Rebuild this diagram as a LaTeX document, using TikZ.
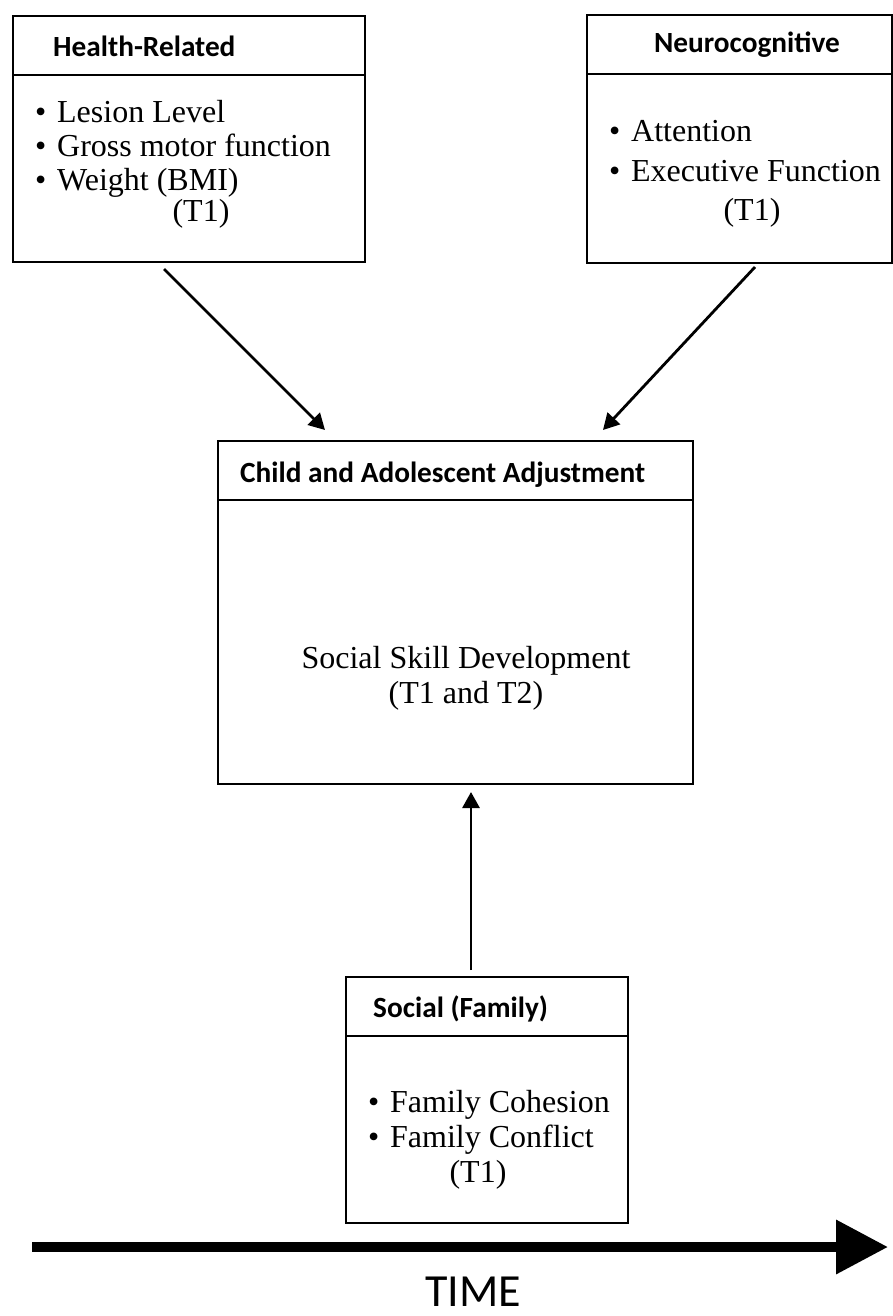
\documentclass[tikz,border=0pt]{standalone}
\usepackage{fontspec}
\setmainfont{Liberation Serif}
\newfontfamily\calibri{Carlito}
\usetikzlibrary{arrows.meta}

\tikzset{x=1pt, y=-1pt}
\tikzset{
 frame/.style={draw, line width=2.2pt, anchor=north west, inner sep=0pt},
 rule/.style={line width=2.2pt},
 headtxt/.style={font=\calibri\bfseries\fontsize{29.3}{31}\selectfont, anchor=base west, inner sep=0pt},
 item/.style={font=\fontsize{32}{33}\selectfont, anchor=base west, inner sep=0pt},
 link/.style={line width=2.8pt, -{Triangle[length=16pt,width=17pt]}},
}
\newcommand{\bul}{\makebox[22pt][l]{\textbullet}}

\begin{document}
\begin{tikzpicture}
 \useasboundingbox (0,0) rectangle (893,1316);
 % the four boxes
 \node[frame, minimum width=352pt, minimum height=246pt] (health) at (12,15) {};
 \node[frame, minimum width=305pt, minimum height=248pt] (neuro) at (586,14) {};
 \node[frame, minimum width=475pt, minimum height=343pt] (adjust) at (217,440) {};
 \node[frame, minimum width=282pt, minimum height=246pt] (social) at (345,976) {};
 \foreach \b in {health,neuro,adjust,social}
 \draw[rule] ([yshift=-60pt]\b.north west) -- ([yshift=-60pt]\b.north east);

 % health-related
 \node[headtxt] (hhead) at (53,57) {Health-Related};
 \foreach \y/\t [count=\i] in {123/Lesion Level,157/Gross motor function,190/Weight (BMI)}
 \node[item] (hitem\i) at (35,\y) {\bul\t};
 \node[item, anchor=base] (htime) at (201,222) {(T1)};

 % neurocognitive
 \node[headtxt, anchor=base] (nhead) at (747,53) {Neurocognitive};
 \foreach \y/\t [count=\i] in {142/Attention,182/Executive Function}
 \node[item] (nitem\i) at (609,\y) {\bul\t};
 \node[item, anchor=base] (ntime) at (752,220) {(T1)};

 % outcome
 \node[headtxt] (ahead) at (240,482) {Child and Adolescent Adjustment};
 \node[item, anchor=base] (aitem) at (466,668) {Social Skill Development};
 \node[item, anchor=base] (atime) at (466,703) {(T1 and T2)};

 % social
 \node[headtxt] (shead) at (373,1017) {Social (Family)};
 \foreach \y/\t [count=\i] in {1112/Family Cohesion,1147/Family Conflict}
 \node[item] (sitem\i) at (368,\y) {\bul\t};
 \node[item, anchor=base] (stime) at (478,1182) {(T1)};

 % arrows into the outcome box
 \coordinate (hs) at (164,269);
 \coordinate (ht) at (325,430);
 \coordinate (ns) at (755,267);
 \coordinate (nt) at (603,430);
 \coordinate (ss) at (471,970);
 \coordinate (st) at (471,792);
 \draw[link] (hs) -- (ht);
 \draw[link] (ns) -- (nt);
 \draw[link] (ss) -- (st);

 % time axis
 \coordinate (t0) at (32,1247);
 \coordinate (t1) at (888,1247);
 \draw[line width=10pt, -{Triangle[length=52pt,width=52pt]}] (t0) -- (t1);
 \node[font=\calibri\fontsize{46}{48}\selectfont, anchor=base west, inner sep=0pt, text depth=0pt] (time) at (425,1306) {TIME};
\end{tikzpicture}
\end{document}
